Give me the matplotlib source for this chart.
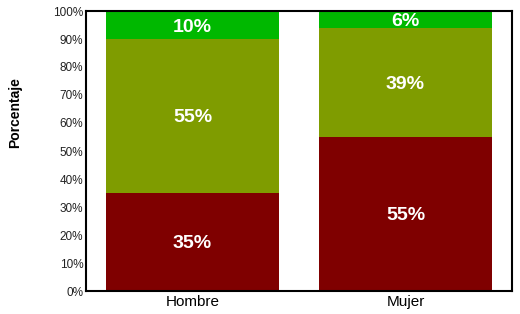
import matplotlib
matplotlib.use("Agg")
import matplotlib.pyplot as plt
from matplotlib.ticker import FuncFormatter

categories = ["Hombre", "Mujer"]
bottom_vals = [35, 55]
middle_vals = [55, 39]
top_vals = [10, 6]
colors = ["#7f0000", "#7f9c00", "#00b800"]

plt.rcParams['font.family'] = ['Liberation Sans', 'DejaVu Sans']
fig = plt.figure(figsize=(5.2, 3.14), dpi=100)
ax = fig.add_axes([86/520, 1-291/314, 426/520, 280/314])

x = list(range(len(categories)))
w = 0.81
series = [bottom_vals, middle_vals, top_vals]
base = [0]*len(categories)
for vals, c in zip(series, colors):
    ax.bar(x, vals, w, bottom=base, color=c, edgecolor='none')
    for xi, b, v in zip(x, base, vals):
        ax.text(xi, b + v/2, f"{v}%", ha='center', va='center_baseline', color='white',
                fontsize=14, fontweight='bold')
    base = [b + v for b, v in zip(base, vals)]

ax.set_xlim(-0.5, 1.5)
ax.set_ylim(0, 100)
ax.set_yticks(range(0, 101, 10))
ax.yaxis.set_major_formatter(FuncFormatter(lambda v, p: f"{int(v)}%"))
ax.set_xticks(x)
ax.set_xticklabels(categories, fontsize=11)
ax.tick_params(axis='y', labelsize=8.5, length=0, pad=2, labelcolor='#222222')
ax.tick_params(axis='x', length=0, pad=3)
for s in ax.spines.values():
    s.set_linewidth(1.5)
    s.set_color('black')
ax.set_ylabel("Porcentaje", fontsize=10, fontweight='bold')
ax.yaxis.set_label_coords(-0.15, 0.636)
fig.savefig("out.png", dpi=100)
